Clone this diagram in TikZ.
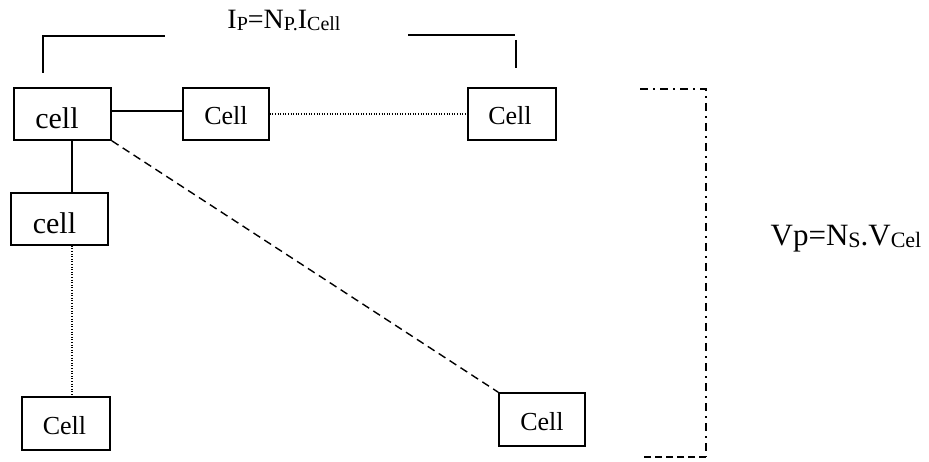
\documentclass[tikz,border=0pt]{standalone}
\usepackage{fontspec}
\setmainfont{Liberation Serif}
\newcommand\lowsub[2]{\raisebox{-2pt}{\fontsize{#1}{#1}\selectfont #2}}
\begin{document}
\begin{tikzpicture}[x=1pt,y=-1pt,
  cellbox/.style={draw, line width=1.6pt, inner sep=0pt, minimum height=52pt,
    text height=21pt, text depth=0pt, font=\fontsize{26}{31}\selectfont},
  smallcell/.style={cellbox, text height=29pt, font=\fontsize{30}{36}\selectfont},
  wire/.style={line width=1.4pt},
  dotwire/.style={line width=1.1pt, dash pattern=on 1pt off 1.6pt},
  dashwire/.style={line width=1.4pt, dash pattern=on 8pt off 5pt},
  brace/.style={line width=1.4pt},
  dashdot/.style={line width=1.4pt, dash pattern=on 8pt off 5pt on 2pt off 5pt},
  formula/.style={anchor=base, inner sep=0pt}
]
\useasboundingbox (0,0) rectangle (929,462);

% cells
\node[smallcell, minimum width=97pt] (a) at (62.5,114) {cell\kern11pt};
\node[cellbox, minimum width=86pt] (b) at (226,114) {Cell};
\node[cellbox, minimum width=88pt] (c) at (512,114) {Cell\kern4pt};
\node[smallcell, minimum width=97pt] (d) at (59.5,219) {cell\kern10pt};
\node[cellbox, minimum width=88pt, minimum height=53pt] (e) at (66,423.5) {Cell\kern3pt};
\node[cellbox, minimum width=86pt, minimum height=53pt] (f) at (542,419.5) {Cell};

% connections between cells
\draw[wire] (a.east) ++(0,-3) coordinate (aw) -- (aw -| b.west);
\draw[dotwire] (b.east) -- (c.west);
\draw[wire] (a.south) ++(9.5,0) coordinate (as) -- (as |- d.north);
\draw[dotwire] (d.south) ++(12.5,0) coordinate (ds) -- (ds |- e.north);
\draw[dashwire] (a.south east) -- (f.north west);

% parallel bracket
\coordinate (pl1) at (43,73);
\coordinate (pl2) at (43,36);
\coordinate (pl3) at (165,36);
\coordinate (pr1) at (408,35);
\coordinate (pr2) at (515,35);
\coordinate (pr3) at (516,40);
\coordinate (pr4) at (516,68);
\draw[brace] (pl1) -- (pl2) -- (pl3);
\draw[brace] (pr1) -- (pr2);
\draw[brace] (pr3) -- (pr4);
\node[formula, font=\fontsize{28}{33}\selectfont] (ip) at (284,29)
  {I\lowsub{20}{P}=N\lowsub{20}{P.}I\lowsub{20}{Cell}};

% series bracket
\coordinate (sr1) at (640,89);
\coordinate (sr2) at (706,89);
\coordinate (sr3) at (706,457);
\coordinate (sr4) at (643,457);
\draw[dashdot] (sr1) -- (sr2) -- (sr3);
\draw[line width=1.4pt, dash pattern=on 7pt off 4pt] (sr3) -- (sr4);
\node[formula, font=\fontsize{31}{37}\selectfont] (vp) at (846,246)
  {Vp=N\lowsub{22}{S}.V\lowsub{22}{Cel}};
\end{tikzpicture}
\end{document}
